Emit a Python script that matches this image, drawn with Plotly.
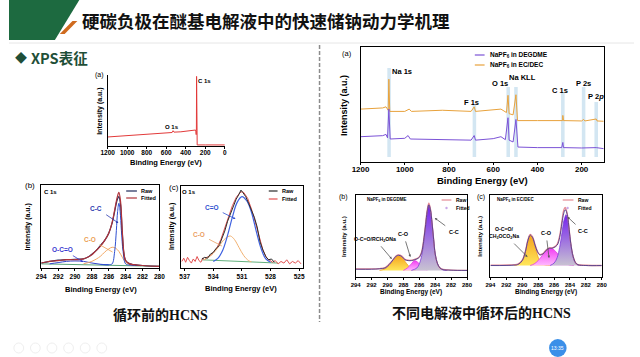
import plotly.graph_objects as go

W, H = 640, 357
def X(p): return p / W
def Y(p): return 1 - p / H

FONT = "Liberation Sans, Arial, sans-serif"
CJK = "Noto Sans CJK SC"

# ---------------- data ----------------
# Left (a) survey, HCNS before cycling
la_be = [1200, 1100, 1000, 960, 940, 900, 800, 700, 600, 540, 530, 520, 450, 350, 300, 296, 293, 291, 289, 286, 283, 200, 100, 0]
la_int = [12.7, 13.5, 14.5, 15.5, 14.8, 15.2, 16, 17, 18, 19, 21.5, 19.5, 20, 21, 22.5, 20, 16, 22, 98, 3, 1.5, 1.5, 1.5, 1.5]

# Left (b) C 1s
lb_env_be = [294, 293, 292, 291, 290, 289, 288.5, 288, 287.5, 287, 286.5, 286, 285.6, 285.3, 285, 284.8, 284.6, 284.4, 284.2, 284, 283.5, 283, 282, 280]
lb_fit = [6, 8, 9, 10, 10, 11, 13, 16, 21, 26, 33, 42, 55, 70, 85, 91, 80, 45, 18, 9, 5, 4, 3, 2]
lb_raw = [6, 8, 9.5, 10, 10.5, 11, 13, 16.5, 21, 27, 33, 42, 54, 68, 82, 86, 76, 43, 17, 9, 5, 4, 3, 2]
lb_cc_be = [287, 286, 285.6, 285.3, 285.1, 284.95, 284.8, 284.65, 284.5, 284.3, 284.0, 283.5, 282]
lb_cc = [4.2, 4, 5, 20, 45, 68, 78, 68, 45, 20, 5, 3.5, 3]
lb_co_be = [289, 288, 287, 286.5, 286, 285.6, 285.2, 284.8, 284.4, 284, 283.5, 283]
lb_co = [5, 8, 14, 19, 23, 25, 24, 20, 13, 7, 4, 3]
lb_oco_be = [293, 292, 291, 290, 289, 288, 287, 286]
lb_oco = [5, 6.5, 8, 8.5, 8, 6, 4.5, 3.8]
lb_base_be = [294, 280]
lb_base = [5, 2]

# Left (c) O 1s
lc_fit_be = [537.3, 537.1, 536.9, 536.7, 536.5, 536.3, 536.1, 535.9, 535.7, 535.5, 535.3, 535.1, 534.9, 534.7, 534.5, 534.2, 534, 533.6, 533.2, 532.8, 532.4, 532, 531.6, 531.2, 531, 530.8, 530.4, 530, 529.6, 529.2, 528.8, 528.4, 528.1, 527.8, 527.5, 527.2, 526.9, 526.6, 526.3, 526, 525.7, 525.4, 525.1, 524.8]
lc_fit = [8, 12, 7, 13, 9, 6, 11, 8, 14, 9, 7, 12, 10, 13, 14, 16, 19, 25, 35, 48, 62, 76, 86, 92, 93, 92, 85, 72, 56, 38, 22, 12, 9, 7, 9, 5, 8, 6, 10, 5, 8, 6, 9, 5]
lc_raw_be = [535.2, 534.9, 534.6, 534.3, 534, 533.7, 533.4, 533.1, 532.8, 532.5, 532.2, 531.9, 531.6, 531.3, 531.1, 530.9, 530.6, 530.3, 530, 529.7, 529.4, 529.1, 528.8, 528.5, 528.2, 527.9, 527.6]
lc_raw = [11, 13, 12, 17, 19, 24, 27, 36, 45, 57, 66, 77, 84, 90, 95, 92, 87, 79, 70, 62, 50, 32, 22, 14, 10, 11, 7]
lc_cdo_be = [534, 533.5, 533, 532.5, 532, 531.5, 531, 530.5, 530, 529.5, 529, 528.5, 528]
lc_cdo = [8, 12, 22, 40, 62, 80, 87, 82, 68, 45, 24, 11, 7]
lc_co_be = [535, 534.5, 534, 533.5, 533, 532.5, 532.2, 531.8, 531.3, 530.8, 530.3, 530]
lc_co = [10, 13, 18, 25, 33, 38, 39, 35, 25, 15, 9, 7.5]
lc_base_be = [535.2, 527.2]
lc_base = [10, 6]

# Right (a) surveys after cycling
ra_org_be = [1200, 1100, 1085, 1075, 1072, 1068, 1000, 980, 970, 830, 700, 686, 680, 600, 565, 540, 533, 528, 510, 497, 493, 490, 400, 286, 285, 282, 200, 191, 185, 134, 130, 100]
ra_org = [46, 47, 48, 45, 72, 44, 44, 46, 44, 45, 44, 48, 44, 45, 46, 43, 58, 42, 41, 58.5, 41, 36, 36, 36, 40.5, 36, 35.7, 37, 35.7, 37.4, 35.7, 35.4]
ra_pur_be = [1200, 1100, 1085, 1078, 1072, 1066, 1000, 985, 975, 830, 700, 686, 680, 600, 565, 545, 533, 528, 510, 497, 492, 488, 400, 290, 285, 282, 200, 134, 100]
ra_pur = [22, 22.9, 24, 21, 46, 20, 20.6, 23, 20, 19.4, 19, 23, 19, 20.3, 22, 19.4, 38.5, 19, 17.4, 37, 17.4, 13, 12.5, 12.5, 17, 12.5, 12.2, 12.5, 11.6]
ra_band_e = [1071, 685, 532, 497, 285, 191, 134]
ra_band_top = [68, 105, 87, 87, 93, 87, 102]
ra_peak_labels = ["Na 1s", "F 1s", "O 1s", "Na KLL", "C 1s", "P 2s", "P 2<i>p</i>"]
ra_label_px = [(402, 72), (474, 102), (503, 83), (526, 77), (564, 90), (588, 83), (601, 97)]

# Right (b) C 1s, NaPF6 in DEGDME
rb_env_be = [294, 292, 291, 290.3, 289.8, 289.3, 288.9, 288.6, 288.2, 287.8, 287.4, 287, 286.6, 286.3, 286, 285.7, 285.4, 285.2, 285, 284.8, 284.6, 284.4, 284.2, 284, 283.7, 283.4, 283, 282, 280]
rb_env = [1.5, 1.5, 2, 3, 7, 13, 17.5, 18.5, 17, 13, 12, 12, 13, 14, 16, 22, 40, 56, 72, 80, 74, 58, 38, 20, 8, 3, 1, 0.3, 0]
rb_raw = [2, 1.8, 2.3, 3.5, 7.5, 13, 18, 19, 17.5, 13.5, 12.5, 12.5, 13.5, 14.5, 16.5, 23, 41, 58, 74, 82, 75, 58, 38, 20, 8, 3, 1.2, 0.5, 0]
rb_cc_be = [287, 286.3, 286, 285.7, 285.4, 285.2, 285, 284.8, 284.6, 284.4, 284.2, 284, 283.7, 283.4, 283, 282.5]
rb_cc = [0, 3, 8, 18, 38, 55, 72, 80, 74, 58, 38, 20, 8, 3, 0.5, 0]
rb_co_be = [288, 287.5, 287, 286.6, 286.2, 285.8, 285.4, 285]
rb_co = [0, 3, 8, 12, 10, 6, 2.5, 0.5]
rb_oco_be = [291, 290.3, 289.8, 289.3, 288.9, 288.6, 288.2, 287.8, 287.4, 287, 286.5]
rb_oco = [0, 2, 6, 12, 17, 18, 16, 11, 6, 2.5, 0.5]

# Right (c) C 1s, NaPF6 in EC/DEC
rc_env_be = [294, 291, 290.5, 290, 289.6, 289.3, 289, 288.7, 288.4, 288.1, 287.8, 287.4, 287, 286.6, 286.3, 286, 285.6, 285.3, 285, 284.8, 284.6, 284.5, 284.3, 284.1, 283.9, 283.6, 283.3, 283, 282, 280]
rc_env = [0, 0.5, 1.5, 6, 17, 30, 37, 34, 25, 17, 13, 14, 18.5, 21, 21, 22, 25, 34, 52, 63, 68, 67, 60, 44, 27, 11, 3.5, 1, 0, 0]
rc_raw = [0.5, 1, 2, 6.5, 17.5, 31, 38, 35, 26, 17.5, 13.5, 14.5, 19, 21.5, 21.5, 22.5, 26, 36, 55, 67, 71, 69, 61, 44, 27, 11, 3.5, 1, 0.3, 0]
rc_cc_be = [286.5, 286, 285.6, 285.3, 285, 284.8, 284.6, 284.5, 284.3, 284.1, 283.9, 283.6, 283.3, 283, 282.5]
rc_cc = [0, 3, 10, 22, 40, 53, 60, 62, 57, 42, 26, 10, 3, 0.5, 0]
rc_co_be = [289, 288.5, 288, 287.5, 287, 286.6, 286.3, 286, 285.6, 285.2, 284.8, 284.4, 284, 283.5]
rc_co = [0, 2, 6, 12, 18, 21, 21, 19, 15, 9, 5, 2, 0.5, 0]
rc_oco_be = [291, 290.5, 290, 289.6, 289.3, 289, 288.7, 288.4, 288.1, 287.8, 287.4, 287, 286.5]
rc_oco = [0, 1.5, 6, 17, 30, 37, 33, 23, 13, 6, 2, 0.5, 0]

c1s_ticks = [294, 292, 290, 288, 286, 284, 282, 280]

# ---------------- figure ----------------
fig = go.Figure()
layout = dict(width=W, height=H, margin=dict(l=0, r=0, t=0, b=0),
              paper_bgcolor="white", plot_bgcolor="white", showlegend=False)

panels = [
    # id, box (l, r, t, b), xrange, tickvals, yrange, mirror, tick font size, label standoff
    (1, (101, 221, 75, 146), [1200, 0], [1200, 1000, 800, 600, 400, 200, 0], [0, 100], False, 6.5, -2),
    (2, (33, 154, 185, 268), [294, 280], c1s_ticks, [0, 100], True, 6.5, 0),
    (3, (176, 301, 186, 268), [537.4, 524.6], [537, 534, 531, 528, 525], [0, 100], True, 6.5, 0),
    (4, (360, 609, 47, 162), [1200, 100], [1200, 1000, 800, 600, 400, 200], [0, 100], True, 8, -3),
    (5, (355, 469, 195, 277), [294, 280], c1s_ticks, [-8, 92], True, 6, 0),
    (6, (493, 607, 195, 277), [294, 280], c1s_ticks, [-14, 86], True, 6, 0),
]
for i, (l, r, t, b), xr, tv, yr, mir, tfs, tso in panels:
    s = "" if i == 1 else str(i)
    layout["xaxis" + s] = dict(domain=[X(l), X(r)], anchor="y" + s, range=xr, tickvals=tv,
                               showline=True, linecolor="black", linewidth=1, mirror=mir,
                               ticks="outside", ticklen=2, tickwidth=1, tickcolor="black",
                               showgrid=False, zeroline=False, ticklabelstandoff=tso,
                               tickfont=dict(family=FONT, size=tfs, color="black", weight="bold"))
    layout["yaxis" + s] = dict(domain=[Y(b), Y(t)], anchor="x" + s, range=yr,
                               showline=True, linecolor="black", linewidth=1, mirror=mir,
                               showticklabels=False, ticks="", showgrid=False, zeroline=False)

def line(x, y, ax, color, width=1, shape="spline", **kw):
    fig.add_trace(go.Scatter(x=x, y=y, xaxis="x" + ax, yaxis="y" + ax, mode="lines",
                             line=dict(color=color, width=width, shape=shape), hoverinfo="skip", **kw))

# Left (a)
line(la_be, la_int, "", "#e23a3a", 1, "linear")
# Left (b)
line(lb_base_be, lb_base, "2", "#2e8b57", 0.8, "linear")
line(lb_oco_be, lb_oco, "2", "#3344cc", 1)
line(lb_co_be, lb_co, "2", "#f2a866", 1)
line(lb_cc_be, lb_cc, "2", "#2e4fd0", 1)
line(lb_env_be, lb_raw, "2", "#1f2a5a", 1.2)
line(lb_env_be, lb_fit, "2", "#b0333a", 1.2)
# Left (c)
line(lc_base_be, lc_base, "3", "#3a9a5a", 0.8, "linear")
line(lc_fit_be, lc_fit, "3", "#e25050", 1, "linear")
line(lc_co_be, lc_co, "3", "#f2b272", 1)
line(lc_cdo_be, lc_cdo, "3", "#3f62e0", 1.2)
line(lc_raw_be, lc_raw, "3", "#2a2a2a", 1, "linear")
# Right (a)
line(ra_org_be, ra_org, "4", "#e8a23c", 1, "linear")
line(ra_pur_be, ra_pur, "4", "#7b52d6", 1, "linear")

# Right (b), (c) filled components
def comp(x, y, ax, lc, c0, c1):
    fig.add_trace(go.Scatter(x=x, y=y, xaxis="x" + ax, yaxis="y" + ax, mode="lines",
                             line=dict(color=lc, width=0.8, shape="spline"), fill="tozeroy",
                             fillgradient=dict(type="vertical", colorscale=[[0, c0], [1, c1]]),
                             hoverinfo="skip"))

for ax, oco, co, cc, env, raw in [
    ("5", (rb_oco_be, rb_oco), (rb_co_be, rb_co), (rb_cc_be, rb_cc), (rb_env_be, rb_env), rb_raw),
    ("6", (rc_oco_be, rc_oco), (rc_co_be, rc_co), (rc_cc_be, rc_cc), (rc_env_be, rc_env), rc_raw),
]:
    comp(*oco, ax, "#f0a020", "#ffe65a", "#f5a21e")
    comp(*co, ax, "#e040e0", "#ffb8ff", "#f23cf2")
    comp(*cc, ax, "#7d3cd8", "#c8c2d2", "#7420ee")
    line(env[0], raw, ax, "#e58a94", 1.3)
    line(env[0], env[1], ax, "#4a3c8c", 0.9)

# ---------------- shapes ----------------
shapes = []
def P(pts):
    return "M " + " L ".join(f"{X(a):.5f},{Y(b):.5f}" for a, b in pts) + " Z"

# header
shapes.append(dict(type="path", xref="paper", yref="paper", path=P([(0, 0), (72, 0), (47, 40), (0, 40)]),
                   fillcolor="#1d6a40", line=dict(width=0)))
shapes.append(dict(type="path", xref="paper", yref="paper", path=P([(52, 34), (57, 34), (70, 21), (65, 21)]),
                   fillcolor="#cf6a1e", line=dict(width=0)))
shapes.append(dict(type="line", xref="paper", yref="paper", x0=0, x1=1, y0=Y(43), y1=Y(43),
                   line=dict(color="#e6e6e6", width=1)))
# divider
shapes.append(dict(type="line", xref="paper", yref="paper", x0=X(318), x1=X(318), y0=Y(45), y1=Y(322),
                   line=dict(color="#8c8c8c", width=1.5, dash="4px,2px")))
# RA bands
for e, top in zip(ra_band_e, ra_band_top):
    shapes.append(dict(type="rect", xref="x4", yref="paper", x0=e + 8, x1=e - 8, y0=Y(157), y1=Y(top),
                       fillcolor="#d3e6f2", line=dict(width=0), layer="below"))
# legend samples
def seg(x0, x1, y, color, w=1):
    shapes.append(dict(type="line", xref="paper", yref="paper", x0=X(x0), x1=X(x1), y0=Y(y), y1=Y(y),
                       line=dict(color=color, width=w)))
seg(120, 131, 191, "#1f2a5a", 1.2); seg(120, 131, 198, "#b0333a", 1.2)
seg(266, 275, 191, "#2a2a2a", 1.2); seg(266, 275, 199, "#e25050", 1.2)
seg(477, 487, 55, "#7b52d6", 1.2); seg(477, 487, 65, "#e8a23c", 1.2)
seg(443, 453, 200, "#e58a94", 1.2); seg(567, 578, 200, "#e58a94", 1.2)
for cx in (448, 572):
    shapes.append(dict(type="circle", xref="paper", yref="paper", x0=X(cx - 1.2), x1=X(cx + 1.2),
                       y0=Y(209.2), y1=Y(206.8), fillcolor="#c9a8e8", line=dict(width=0)))
# toolbar icons and clock bubble (screen artefacts)
for cx in (10, 27, 44, 61, 78, 95):
    shapes.append(dict(type="circle", xref="paper", yref="paper", x0=X(cx - 5), x1=X(cx + 5),
                       y0=Y(353), y1=Y(343), line=dict(color="#efefef", width=1)))
shapes.append(dict(type="circle", xref="paper", yref="paper", x0=X(553), x1=X(571), y0=Y(357), y1=Y(339),
                   fillcolor="#3b8fe8", line=dict(width=0)))
layout["shapes"] = shapes

# ---------------- text ----------------
ann = []
def T(x, y, text, size, color="black", bold=True, family=FONT, anchor="center", angle=0):
    ann.append(dict(x=X(x), y=Y(y), xref="paper", yref="paper", text=text, showarrow=False,
                    xanchor=anchor, yanchor="middle", textangle=angle,
                    font=dict(family=family, size=size, color=color, weight="bold" if bold else "normal")))
def A(hx, hy, tx, ty, text, size, color, head=2, acolor=None):
    ann.append(dict(x=X(hx), y=Y(hy), xref="paper", yref="paper", text=text, showarrow=True,
                    ax=tx - hx, ay=ty - hy, arrowhead=head, arrowsize=0.6, arrowwidth=0.8,
                    arrowcolor=acolor or color, standoff=0, startstandoff=3,
                    font=dict(family=FONT, size=size, color=color, weight="bold")))

T(73, 20, "硬碳负极在醚基电解液中的快速储钠动力学机理", 17.5, "#111111", True, CJK, "left")
T(12, 58, "◆", 12, "#1f4f38", True, CJK)
T(20, 58, "XPS表征", 14.5, "#1f4f38", True, CJK, "left")
T(155, 315, "循环前的HCNS", 14, "#111111", True, "Liberation Serif, Noto Sans CJK SC")
T(484, 313, "不同电解液中循环后的HCNS", 14, "#111111", True, "Liberation Serif, Noto Sans CJK SC")
T(562, 348, "13:35", 5, "white", False)

# Left (a)
T(93, 75, "(a)", 7, bold=False)
T(93, 111, "Intensity (a.u.)", 7, angle=-90)
T(161, 163, "Binding Energy (eV)", 7.5)
T(167, 127, "O 1s", 6)
T(200, 81, "C 1s", 6)
# Left (b)
T(22, 185, "(b)", 8, bold=False)
T(43, 192, "C 1s", 6)
T(19, 227, "Intensity (a.u.)", 7, angle=-90)
T(94, 289, "Binding Energy (eV)", 7.5)
T(133, 191, "Raw", 5.5, anchor="left"); T(133, 198, "Fitted", 5.5, anchor="left")
A(112, 223, 90, 208, "C-C", 6.5, "#2a3ab0")
A(106, 252, 83, 239, "C-O", 6.5, "#eba052", head=0)
A(76, 262, 55, 249, "O-C=O", 6.5, "#3a3ad0")
# Left (c)
T(169, 187, "(c)", 8, bold=False)
T(184, 192, "O 1s", 6)
T(167, 227, "Intensity (a.u.)", 7, angle=-90)
T(238, 288, "Binding Energy (eV)", 7.5)
T(277, 191, "Raw", 5.5, anchor="left"); T(277, 199, "Fitted", 5.5, anchor="left")
A(232, 219, 208, 207, "C=O", 6.5, "#3050d0")
A(218, 246, 195, 234, "C-O", 6.5, "#eba062", head=0)
# Right (a)
T(346, 53, "(a)", 7.5, bold=False)
T(343, 105, "Intensity (a.u.)", 9, angle=-90)
T(485, 180, "Binding Energy (eV)", 9.5)
T(490, 55, "NaPF<sub>6</sub> in DEGDME", 6.5, anchor="left")
T(490, 65, "NaPF<sub>6</sub> in EC/DEC", 6.5, anchor="left")
for lab, (x, y) in zip(ra_peak_labels, ra_label_px):
    T(x, y, lab, 7.5)
# Right (b)
T(343, 197, "(b)", 7, bold=False)
T(343, 236, "Intensity (a.u.)", 6, angle=-90)
T(412, 292, "Binding Energy (eV)", 6.5)
T(365, 200, "NaPF<sub>6</sub> in DEGDME", 4.5, anchor="left")
T(456, 200, "Raw", 5, anchor="left"); T(456, 208, "Fitted", 5, anchor="left")
A(436, 218, 455, 232, "C-C", 5.5, "black", head=2, acolor="#555555")
A(411, 257, 404, 234, "C-O", 5.5, "black", head=2, acolor="#555555")
A(392, 259, 375, 239, "O-C=O/RCH<sub>2</sub>ONa", 5.2, "black", head=2, acolor="#555555")
# Right (c)
T(483, 197, "(c)", 7, bold=False)
T(482, 236, "Intensity (a.u.)", 6, angle=-90)
T(550, 292, "Binding Energy (eV)", 6.5)
T(498, 200, "NaPF<sub>6</sub> in EC/DEC", 4.5, anchor="left")
T(581, 200, "Raw", 5, anchor="left"); T(581, 208, "Fitted", 5, anchor="left")
A(572, 217, 587, 231, "C-C", 5.5, "black", head=2, acolor="#555555")
A(553, 258, 550, 233, "C-O", 5.5, "black", head=2, acolor="#555555")
A(531, 257, 507, 233, "O-C=O/<br>CH<sub>3</sub>OCO<sub>2</sub>Na", 5.2, "black", head=2, acolor="#555555")

layout["annotations"] = ann
fig.update_layout(**layout)
fig.write_html("out.html", config={"displayModeBar": False},
               post_script="document.body.style.margin='0';document.body.style.overflow='hidden';")
